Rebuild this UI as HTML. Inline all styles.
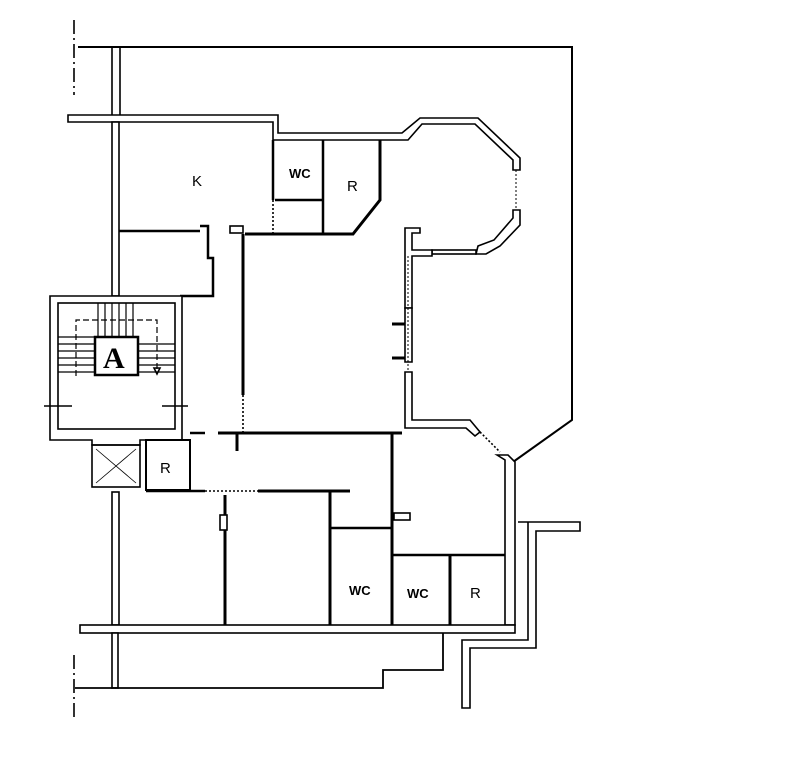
<!DOCTYPE html>
<html><head><meta charset="utf-8"><style>
html,body{margin:0;padding:0;background:#fff;width:802px;height:784px;overflow:hidden}
svg{display:block}
text{font-family:"Liberation Sans",sans-serif;fill:#000}
</style></head><body>
<svg width="802" height="784" viewBox="0 0 802 784" xmlns="http://www.w3.org/2000/svg">
<g fill="none" stroke="#000" stroke-width="1.6">
<!-- dashed left lines -->
<line x1="74" y1="20" x2="74" y2="95" stroke-dasharray="14,4,2,4"/>
<line x1="74" y1="655" x2="74" y2="720" stroke-dasharray="14,4,2,4"/>
<!-- terrace outline -->
<polyline points="78,47 572,47 572,420 513,462" stroke-width="2"/>
<line x1="120" y1="47" x2="120" y2="115"/>
<line x1="112" y1="47" x2="112" y2="115"/>
<!-- top exterior wall -->
<polygon points="68,115 278,115 278,133 402,133 420,118 478,118 520,158 520,170 513,170 513,160 475,124 422,124 408,140 330,140 282,140 273,140 273,122 68,122" fill="#fff"/>
<!-- octagon lower -->
<polygon points="520,210 520,225 500,246 486,254 476,254 478,246 494,240 513,218 513,210" fill="#fff"/>
<rect x="432" y="250" width="44" height="4"/>
<line x1="516" y1="170" x2="516" y2="210" stroke-dasharray="2,2" stroke-width="1"/>
<polygon points="405,228 420,228 420,233 412,233 412,250 432,250 432,256 412,256 412,308 405,308" fill="#fff"/>
<polygon points="405,308 412,308 412,362 405,362" fill="#fff"/>
<polygon points="405,372 412,372 412,420 470,420 480,432 475,436 466,428 405,428" fill="#fff"/>
<line x1="408" y1="256" x2="408" y2="370" stroke-dasharray="2,2" stroke-width="1"/>
<line x1="392" y1="324" x2="405" y2="324" stroke-width="3"/>
<line x1="392" y1="358" x2="405" y2="358" stroke-width="3"/>
<line x1="480" y1="432" x2="500" y2="452" stroke-dasharray="2,2"/>
<!-- right double wall -->
<polygon points="497,455 505,460 505,625 515,625 515,462 508,455" fill="#fff"/>
<!-- step wall right -->
<polyline points="518,522 580,522 580,531 536,531 536,648 470,648 470,708 462,708 462,640 528,640 528,522" fill="#fff"/>
<!-- left kitchen wall -->
<rect x="112" y="122" width="7" height="174" fill="#fff"/>
<!-- K, WC, R -->
<line x1="119" y1="231" x2="200" y2="231" stroke-width="2.5"/>
<line x1="273" y1="140" x2="273" y2="200" stroke-width="2.5"/>
<line x1="275" y1="200" x2="323" y2="200" stroke-width="2.5"/>
<line x1="323" y1="140" x2="323" y2="234" stroke-width="2.5"/>
<polyline points="380,140 380,200 353,234 245,234" stroke-width="3"/>
<line x1="273" y1="200" x2="273" y2="234" stroke-dasharray="2,2"/>
<!-- corridor -->
<polyline points="200,226 208,226 208,258 213,258 213,296 180,296" stroke-width="2.5"/>
<rect x="230" y="226" width="13" height="7"/>
<line x1="243" y1="234" x2="243" y2="395" stroke-width="3"/>
<line x1="243" y1="395" x2="243" y2="433" stroke-dasharray="2,2"/>
<!-- stair block -->
<polygon points="50,296 182,296 182,440 140,440 140,445 92,445 92,440 50,440" fill="#fff"/>
<rect x="58" y="303" width="117" height="126" fill="#fff"/>
<rect x="92" y="445" width="48" height="42"/>
<line x1="96" y1="449" x2="136" y2="483" stroke-width="0.8"/>
<line x1="136" y1="449" x2="96" y2="483" stroke-width="0.8"/>
<g stroke-width="1.2">
<line x1="98" y1="303" x2="98" y2="337"/><line x1="105" y1="303" x2="105" y2="337"/><line x1="112" y1="303" x2="112" y2="337"/><line x1="119" y1="303" x2="119" y2="337"/><line x1="126" y1="303" x2="126" y2="337"/><line x1="133" y1="303" x2="133" y2="337"/>
<line x1="58" y1="337" x2="95" y2="337"/><line x1="58" y1="344" x2="95" y2="344"/><line x1="58" y1="351" x2="95" y2="351"/><line x1="58" y1="358" x2="95" y2="358"/><line x1="58" y1="365" x2="95" y2="365"/><line x1="58" y1="372" x2="95" y2="372"/>
<line x1="138" y1="344" x2="175" y2="344"/><line x1="138" y1="351" x2="175" y2="351"/><line x1="138" y1="358" x2="175" y2="358"/><line x1="138" y1="365" x2="175" y2="365"/><line x1="138" y1="372" x2="175" y2="372"/>
<polyline points="76,376 76,320 157,320 157,370" stroke-dasharray="6,3"/>
</g>
<polygon points="154,368 160,368 157,374"/>
<rect x="95" y="337" width="43" height="38" stroke-width="2.5" fill="#fff"/>
<line x1="44" y1="406" x2="72" y2="406"/><line x1="162" y1="406" x2="188" y2="406"/>
<!-- small R -->
<rect x="146" y="440" width="44" height="50" stroke-width="2"/>
<!-- middle walls -->
<line x1="190" y1="433" x2="205" y2="433" stroke-width="2.5"/>
<line x1="218" y1="433" x2="402" y2="433" stroke-width="3"/>
<line x1="237" y1="433" x2="237" y2="451" stroke-width="3"/>
<line x1="190" y1="440" x2="190" y2="490" stroke-dasharray="2,2"/>
<line x1="146" y1="491" x2="205" y2="491" stroke-width="2.5"/>
<line x1="205" y1="491" x2="258" y2="491" stroke-dasharray="2,2"/>
<line x1="258" y1="491" x2="350" y2="491" stroke-width="3"/>
<rect x="112" y="492" width="7" height="133" fill="#fff"/>
<line x1="225" y1="495" x2="225" y2="625" stroke-width="3"/>
<rect x="220" y="515" width="7" height="15" fill="#fff"/>
<line x1="330" y1="492" x2="330" y2="625" stroke-width="3"/>
<line x1="330" y1="528" x2="392" y2="528" stroke-width="2.5"/>
<line x1="392" y1="433" x2="392" y2="625" stroke-width="3"/>
<rect x="394" y="513" width="16" height="7"/>
<line x1="392" y1="516" x2="394" y2="516" stroke-width="3"/>
<line x1="392" y1="555" x2="505" y2="555" stroke-width="2.5"/>
<line x1="450" y1="555" x2="450" y2="625" stroke-width="3"/>
<!-- bottom wall -->
<rect x="80" y="625" width="435" height="8" fill="#fff"/>
<!-- lower terrace -->
<rect x="112" y="633" width="6" height="55" fill="#fff"/>
<polyline points="75,688 383,688 383,670 443,670 443,633" stroke-width="1.8"/>
</g>
<text x="192" y="186" font-size="15">K</text>
<text x="289" y="178" font-size="13" font-weight="bold">WC</text>
<text x="347" y="191" font-size="15">R</text>
<text x="103" y="368" font-family="Liberation Serif" font-size="30" font-weight="bold" style="font-family:'Liberation Serif',serif">A</text>
<text x="160" y="473" font-size="15">R</text>
<text x="349" y="595" font-size="13" font-weight="bold">WC</text>
<text x="407" y="598" font-size="13" font-weight="bold">WC</text>
<text x="470" y="598" font-size="15">R</text>
</svg>
</body></html>
